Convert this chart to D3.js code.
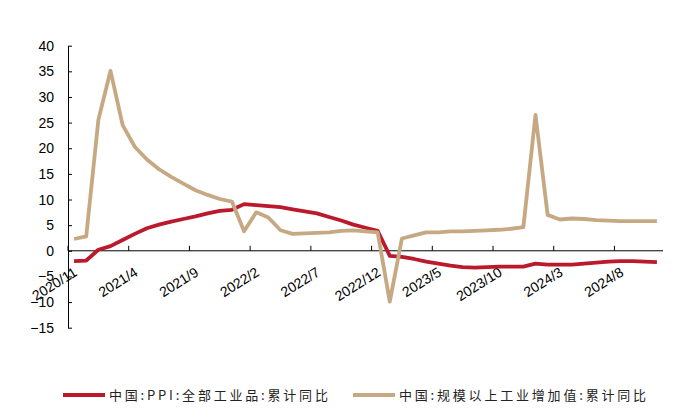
<!DOCTYPE html>
<html>
<head>
<meta charset="utf-8">
<script src="https://cdn.jsdelivr.net/npm/d3@7"></script>
<style>
  body { margin: 0; background: #fff; }
  svg { display: block; }
  .axis text { font-family: "Liberation Sans", Arial, sans-serif; font-size: 14px; fill: #000; }
  .axis path, .axis line { stroke: #000; stroke-width: 1; }
  .legend text { font-family: "Noto Sans CJK SC", sans-serif; font-size: 13px; letter-spacing: 2.8px; fill: #222; }
</style>
</head>
<body>
<div id="chart"></div>
<script>
// months, 2020/11 .. 2024/11
const months = ["2020/11","2020/12",
  "2021/1","2021/2","2021/3","2021/4","2021/5","2021/6","2021/7","2021/8","2021/9","2021/10","2021/11","2021/12",
  "2022/1","2022/2","2022/3","2022/4","2022/5","2022/6","2022/7","2022/8","2022/9","2022/10","2022/11","2022/12",
  "2023/1","2023/2","2023/3","2023/4","2023/5","2023/6","2023/7","2023/8","2023/9","2023/10","2023/11","2023/12",
  "2024/1","2024/2","2024/3","2024/4","2024/5","2024/6","2024/7","2024/8","2024/9","2024/10","2024/11"]

// 中国:PPI:全部工业品:累计同比
const ppi = [-2.0,-1.9,
  0.2,0.9,2.1,3.3,4.4,5.1,5.7,6.2,6.7,7.3,7.8,8.0,
  9.1,8.9,8.7,8.5,8.1,7.7,7.3,6.6,5.9,5.1,4.5,3.9,
  -1.0,-1.2,-1.6,-2.1,-2.5,-2.9,-3.2,-3.3,-3.2,-3.1,-3.1,-3.1,
  -2.5,-2.7,-2.7,-2.7,-2.5,-2.3,-2.1,-2.0,-2.0,-2.1,-2.2]

// 中国:规模以上工业增加值:累计同比
const iva = [2.3,2.8,
  25.5,35.1,24.5,20.3,17.8,15.9,14.4,13.1,11.8,10.9,10.1,9.6,
  3.8,7.5,6.5,4.0,3.3,3.4,3.5,3.6,3.9,4.0,3.8,3.6,
  -9.9,2.4,3.0,3.6,3.6,3.8,3.8,3.9,4.0,4.1,4.3,4.6,
  26.5,7.0,6.1,6.3,6.2,6.0,5.9,5.8,5.8,5.8,5.8]

const yTicks = [-15,-10,-5,0,5,10,15,20,25,30,35,40]
const labelMonths = months.filter((d, i) => i % 5 === 0)

const seriesNames = ["中国:PPI:全部工业品:累计同比", "中国:规模以上工业增加值:累计同比"]
const colors = ["#BA1A2C", "#C6A983"]

const w = 700
const h = 420
const plotLeft = 68
const plotRight = 663
const plotTop = 45.7
const plotBottom = 327.7

const svg = d3.select("#chart")
              .append("svg")
              .attr("width", w)
              .attr("height", h)

const xBand = d3.scaleBand()
                .domain(months)
                .range([plotLeft, plotRight])
const xCenter = d => xBand(d) + xBand.bandwidth() / 2

const yScale = d3.scaleLinear()
                 .domain([-15, 40])
                 .range([plotBottom, plotTop])

// y axis, ticks pointing inward
svg.append("g")
  .attr("class", "axis")
  .attr("transform", `translate(${plotLeft},0)`)
  .call(d3.axisLeft(yScale).tickValues(yTicks).tickSizeInner(-4).tickSizeOuter(0).tickPadding(14))

// x axis at zero; tick marks on category boundaries
const xAxis = svg.append("g")
  .attr("class", "axis")
  .attr("transform", `translate(0,${yScale(0)})`)
xAxis.append("line")
  .attr("x1", plotLeft).attr("x2", plotRight)
xAxis.selectAll("line.tick")
  .data(labelMonths)
  .enter()
  .append("line")
    .attr("class", "tick")
    .attr("x1", d => xBand(d)).attr("x2", d => xBand(d))
    .attr("y1", 0).attr("y2", -5)

// rotated month labels, anchored on the category
const xLabels = svg.append("g")
  .attr("class", "axis")
  .attr("transform", `translate(0,${yScale(0)})`)
  .call(d3.axisBottom(xBand).tickValues(labelMonths).tickSize(0).tickPadding(0))
xLabels.select(".domain").remove()
xLabels.selectAll(".tick text")
  .attr("y", 0)
  .attr("dy", 0)
  .style("text-anchor", "end")
  .attr("transform", "translate(4,24) rotate(-32)")

// lines
const line = d3.line()
               .x((d, i) => xCenter(months[i]))
               .y(d => yScale(d))

;[ppi, iva].forEach((s, k) => {
  svg.append("path")
    .datum(s)
    .attr("fill", "none")
    .attr("stroke", colors[k])
    .attr("stroke-width", 3.8)
    .attr("stroke-linejoin", "round")
    .attr("d", line)
})

// legend
const legendX = [63, 353]
const legend = svg.append("g").attr("class", "legend")
seriesNames.forEach((name, k) => {
  legend.append("line")
    .attr("x1", legendX[k]).attr("x2", legendX[k] + 42)
    .attr("y1", 395).attr("y2", 395)
    .attr("stroke", colors[k])
    .attr("stroke-width", 4)
  legend.append("text")
    .attr("x", legendX[k] + 46)
    .attr("y", 400)
    .text(name)
})
</script>
</body>
</html>
